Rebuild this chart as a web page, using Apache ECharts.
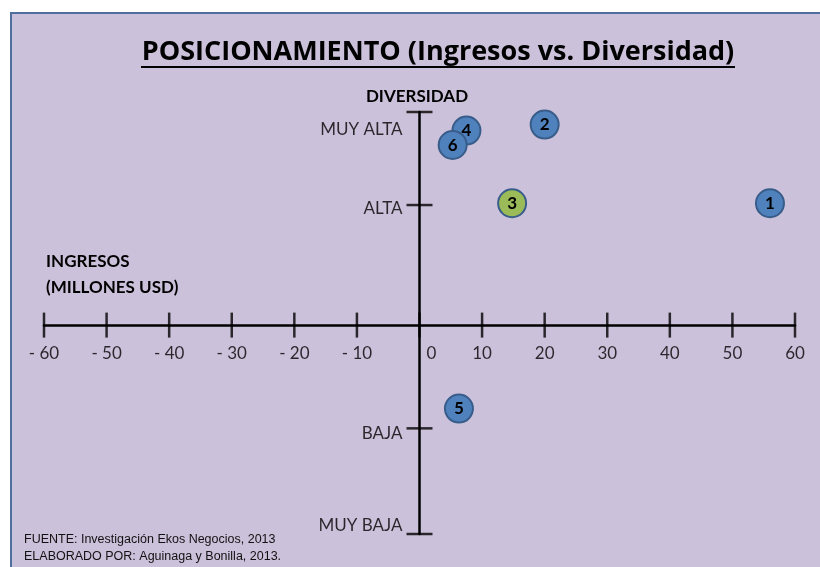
<!DOCTYPE html>
<html>
<head>
<meta charset="utf-8">
<script src="https://cdn.jsdelivr.net/npm/echarts@6/dist/echarts.min.js"></script>
<style>
  html, body { margin: 0; padding: 0; background: #fff; }
  #main { width: 820px; height: 567px; }
</style>
</head>
<body>
<div id="main"></div>
<script>
// datos
var xTicks = [-60, -50, -40, -30, -20, -10, 0, 10, 20, 30, 40, 50, 60];
var yLevels = ["MUY ALTA", "ALTA", "BAJA", "MUY BAJA"];
var yLevelValues = [3.55, 2, -1.72, -3.48];
var ids = ["1", "2", "3", "4", "6", "5"];
var ingresos = [56, 20, 14.8, 7.5, 5.3, 6.3];
var diversidad = [2.03, 3.34, 2.03, 3.24, 3.0, -1.39];

var chart = echarts.init(document.getElementById("main"));

var yLabelOffset = { "MUY ALTA": [0, 18], "ALTA": [0, 3], "BAJA": [0, 5], "MUY BAJA": [0, -8] };
var font = "Lato, 'Open Sans', sans-serif";

chart.setOption({
  animation: false,
  graphic: [
    { type: "rect", z: -10, shape: { x: 11, y: 13, width: 830, height: 570 },
      style: { fill: "#ccc1da", stroke: "#4f6f9f", lineWidth: 2 } },
    { type: "text", x: 438, y: 52, style: { text: "POSICIONAMIENTO (Ingresos vs. Diversidad)",
      font: "bold 27px 'Open Sans', sans-serif", fill: "#000", align: "center", verticalAlign: "middle" } },
    { type: "line", shape: { x1: 141, y1: 67, x2: 735, y2: 67 }, style: { stroke: "#000", lineWidth: 2 } },
    { type: "text", x: 417, y: 97, style: { text: "DIVERSIDAD",
      font: "bold 17px " + font, fill: "#000", align: "center", verticalAlign: "middle" } },
    { type: "text", x: 46, y: 262, style: { text: "INGRESOS",
      font: "bold 17px " + font, fill: "#000", align: "left", verticalAlign: "middle" } },
    { type: "text", x: 46, y: 288, style: { text: "(MILLONES USD)",
      font: "bold 17px " + font, fill: "#000", align: "left", verticalAlign: "middle" } },
    { type: "text", x: 24, y: 540, style: { text: "FUENTE: Investigación Ekos Negocios, 2013",
      font: "12.5px 'Liberation Sans', Arial, sans-serif", fill: "#111", verticalAlign: "middle" } },
    { type: "text", x: 24, y: 557, style: { text: "ELABORADO POR: Aguinaga y Bonilla, 2013.",
      font: "12.5px 'Liberation Sans', Arial, sans-serif", fill: "#111", verticalAlign: "middle" } }
  ],
  grid: { left: 44, right: 25, top: 112, bottom: 33 },
  xAxis: {
    type: "value", min: -60, max: 60, interval: 10,
    splitLine: { show: false },
    axisTick: { show: false },
    axisLabel: { show: false },
    axisLine: { onZero: true, lineStyle: { color: "#000", width: 2.5 } }
  },
  yAxis: {
    type: "value", min: -3.48, max: 3.55,
    splitLine: { show: false },
    axisTick: { show: false },
    axisLabel: { show: false },
    axisLine: { onZero: true, lineStyle: { color: "#000", width: 2.5 } }
  },
  series: [
    {
      // marcas del eje X
      type: "scatter", clip: false, silent: true,
      symbol: "rect", symbolSize: [2.5, 25],
      itemStyle: { color: "#000" },
      data: xTicks.map(function (v) {
        return {
          value: [v, 0],
          label: { offset: v === 0 ? [12, 0] : [0, 0] }
        };
      }),
      label: {
        show: true, position: "bottom", distance: 7,
        fontFamily: font, fontSize: 17, color: "#000",
        formatter: function (p) {
          var v = p.value[0];
          return v < 0 ? "- " + Math.abs(v) : String(v);
        }
      }
    },
    {
      // marcas del eje Y
      type: "scatter", clip: false, silent: true,
      symbol: "rect", symbolSize: [26, 2.5],
      itemStyle: { color: "#000" },
      data: yLevels.map(function (name, i) {
        return { name: name, value: [0, yLevelValues[i]], label: { offset: yLabelOffset[name] } };
      }),
      label: {
        show: true, position: "left", distance: 4,
        fontFamily: font, fontSize: 17, color: "#000",
        formatter: "{b}"
      }
    },
    {
      type: "scatter", clip: false,
      symbolSize: 28,
      data: ids.map(function (id, i) {
        return { name: id, value: [ingresos[i], diversidad[i]] };
      }),
      itemStyle: {
        color: function (p) { return p.name === "3" ? "#9bbb59" : "#4f81bd"; },
        borderColor: "#385d8a", borderWidth: 2, opacity: 1
      },
      label: {
        show: true, position: "inside", formatter: "{b}",
        fontFamily: font, fontWeight: "bold", fontSize: 17, color: "#000"
      }
    }
  ]
});
</script>
</body>
</html>
